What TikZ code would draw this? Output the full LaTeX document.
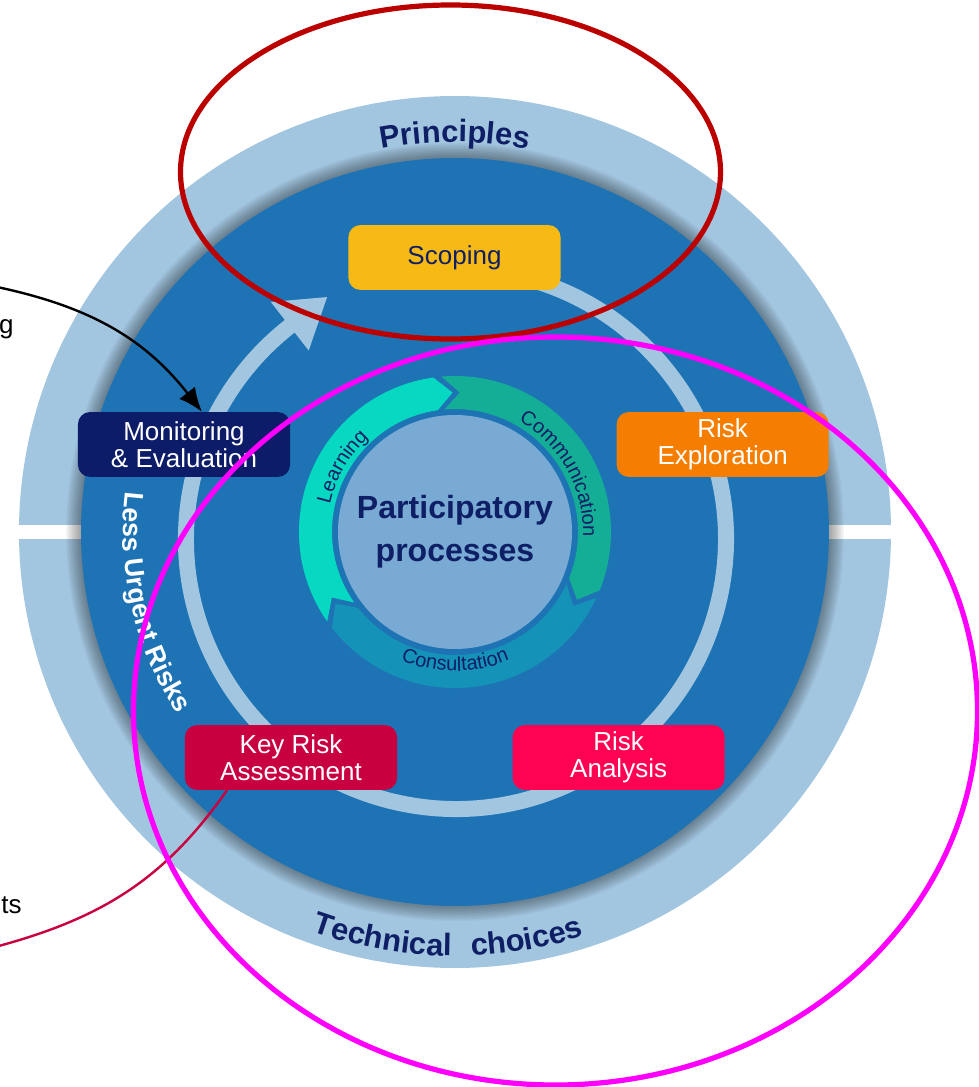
\documentclass[tikz,border=0pt]{standalone}
\usepackage{fontspec}
\setmainfont{Liberation Sans}
\usetikzlibrary{arrows.meta,positioning,decorations.text}

\definecolor{ringblue}{HTML}{A3C6E0}
\definecolor{discblue}{HTML}{1E73B5}
\definecolor{coreblue}{HTML}{78AAD4}
\definecolor{navytext}{HTML}{0F1F66}
\definecolor{scopeyellow}{HTML}{F7BA15}
\definecolor{exploreorange}{HTML}{F57E00}
\definecolor{analysisred}{HTML}{FF0352}
\definecolor{keycrimson}{HTML}{C8003F}
\definecolor{monitornavy}{HTML}{0C1C68}
\definecolor{learncyan}{HTML}{07D8C1}
\definecolor{commteal}{HTML}{14AE96}
\definecolor{consultblue}{HTML}{1592B8}
\definecolor{ovalred}{HTML}{BB0000}
\definecolor{ovalpink}{HTML}{FF00FF}

\begin{document}
\begin{tikzpicture}[x=0.025cm, y=0.025cm]
\tikzset{
   stagebox/.style={rectangle, rounded corners=0.3cm, minimum width=5.3cm, minimum height=1.62cm, inner sep=0pt, align=center, text=white, font=\fontsize{18.5}{19.3}\selectfont},
   arctext/.style={decorate, decoration={text along path, text align=center, text color=navytext}},
   trackline/.style={ringblue, line width=0.4cm, -{Triangle[length=1.2cm, width=1.45cm]}},
   oval/.style={line width=0.13cm},
}
\useasboundingbox (-455,-555) rectangle (524,532);

% rings
\fill[ringblue] (0,0) circle[radius=436];
\fill[white] (-460,-7) rectangle (530,7);
\foreach \k in {1,...,10}
   \fill[black, opacity=0.04] (0,0) circle[radius={374+1.5*\k}];
\fill[discblue] (0,0) circle[radius=374];

\path[arctext, decoration={text={|\fontsize{22}{24}\selectfont\bfseries|Principles}}]
     (115:390) arc[start angle=115, end angle=65, radius=390];
\path[arctext, decoration={text={|\fontsize{22}{24}\selectfont\bfseries|Technical{\hspace{14pt}}choices}}]
     (242:424) arc[start angle=242, end angle=296, radius=424];
\path[decorate, decoration={text along path, text align=left, text color=white,
     text={|\fontsize{19}{21}\selectfont\bfseries|Less Urgent Risks}}]
     (173:332) arc[start angle=173, end angle=225, radius=332];

\draw[trackline] ([shift={(1,-7)}]80:270) arc[start angle=80, end angle=-232, radius=270] -- ++(38:48);

% participatory cycle
\foreach \a/\b/\col in {215/98/learncyan, 95/-22/commteal, -25/-142/consultblue}
   \fill[\col] (\a:156) arc[start angle=\a, end angle=\b, radius=156] -- ({\b-7}:139.5) -- (\b:123)
        arc[start angle=\b, end angle=\a, radius=123] -- ({\a-7}:139.5) -- cycle;
\fill[coreblue] (0,0) circle[radius=117];

\path[arctext, decoration={text={|\fontsize{14.3}{16}\selectfont|Learning}}]
     (178:128) arc[start angle=178, end angle=122, radius=128];
\path[arctext, decoration={text={|\fontsize{14.3}{16}\selectfont|Communication}}]
     (72:128) arc[start angle=72, end angle=-14, radius=128];
\path[arctext, decoration={text={|\fontsize{14.3}{16}\selectfont|Consultation}}]
     (232:139) arc[start angle=232, end angle=308, radius=139];

\node[font=\fontsize{22.8}{30.6}\selectfont\bfseries, text=navytext, align=center] (core) at (0,0) {Participatory\\processes};

% stages
\node[stagebox, fill=scopeyellow, text=navytext] (scoping) at (-0.5,274.5) {Scoping};
\node[stagebox, fill=monitornavy] (monitor) at (-271,87.5) {Monitoring\\\& Evaluation};
\node[stagebox, fill=exploreorange, right=8.15cm of monitor] (riskexp) {Risk\\Exploration};
\node[stagebox, fill=keycrimson] (keyrisk) at (-164,-225.5) {Key Risk\\Assessment};
\node[stagebox, fill=analysisred, right=2.875cm of keyrisk] (riskana) {Risk\\Analysis};

% notes
\node[anchor=base east, inner sep=0pt, font=\fontsize{18.5}{20}\selectfont] (glabel) at (-441,199) {g};
\node[anchor=base east, inner sep=0pt, font=\fontsize{18.5}{20}\selectfont] (tslabel) at (-433,-381) {nts};
\coordinate (gsrc) at (-458,245);
\coordinate (tsend) at (-460,-415);

\draw[-{Latex[length=0.6cm, width=0.5cm]}, line width=0.06cm]
     (gsrc) to[out=-12, in=128] ([xshift=0.45cm]monitor.north);
\draw[keycrimson, line width=0.06cm]
     ([xshift=-1.6cm]keyrisk.south) to[out=235, in=15] (tsend);

\draw[oval, ovalred] (-4.5,360) ellipse[x radius=270, y radius=167];
\draw[oval, ovalpink] (100.5,-179) ellipse[x radius=422, y radius=374];

\end{tikzpicture}
\end{document}
